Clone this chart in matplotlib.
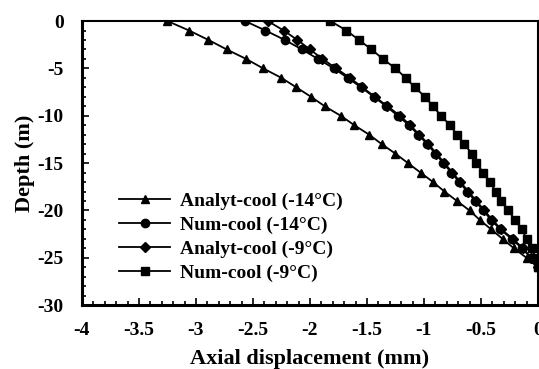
import numpy as np
import matplotlib
matplotlib.use('Agg')
import matplotlib.pyplot as plt
from matplotlib.ticker import MultipleLocator

plt.rcParams['font.family'] = 'Liberation Serif'
plt.rcParams['font.weight'] = 'bold'
plt.rcParams['axes.unicode_minus'] = False

depth = -np.arange(27)

analyt_14 = [-3.25, -3.06, -2.89, -2.73, -2.56, -2.41, -2.25, -2.12, -1.99, -1.87,
             -1.73, -1.61, -1.48, -1.37, -1.25, -1.14, -1.03, -0.92, -0.82, -0.71,
             -0.60, -0.51, -0.41, -0.31, -0.21, -0.10, 0.0]
num_14 = [-2.57, -2.39, -2.22, -2.07, -1.93, -1.79, -1.67, -1.55, -1.44, -1.33,
          -1.23, -1.13, -1.05, -0.97, -0.90, -0.83, -0.76, -0.69, -0.62, -0.55,
          -0.48, -0.41, -0.33, -0.23, -0.14, -0.06, 0.0]
analyt_9 = [-2.37, -2.23, -2.11, -2.00, -1.89, -1.77, -1.65, -1.54, -1.43, -1.32,
            -1.21, -1.12, -1.04, -0.96, -0.89, -0.82, -0.75, -0.68, -0.61, -0.54,
            -0.47, -0.40, -0.32, -0.22, -0.13, -0.06, 0.0]
num_9 = [-1.82, -1.68, -1.57, -1.46, -1.36, -1.25, -1.16, -1.08, -0.99, -0.92,
         -0.85, -0.77, -0.71, -0.645, -0.58, -0.54, -0.48, -0.42, -0.37, -0.32,
         -0.26, -0.20, -0.14, -0.10, -0.055, -0.02, 0.0]

fig = plt.figure(figsize=(5.39, 3.69), dpi=100)
ax = fig.add_axes([0.152, 0.173, 0.846, 0.77])

style = dict(color='black', lw=1.3, ms=6)
ax.plot(analyt_14, depth, marker='^', label='Analyt-cool (-14°C)', **style)
ax.plot(num_14, depth, marker='o', label='Num-cool (-14°C)', **style)
ax.plot(analyt_9, depth, marker='D', label='Analyt-cool (-9°C)', ms=5.5, color='black', lw=1.3)
ax.plot(num_9, depth, marker='s', label='Num-cool (-9°C)', **style)

ax.set_xlim(-4, 0)
ax.set_ylim(-30, 0)
ax.xaxis.set_major_locator(MultipleLocator(0.5))
ax.xaxis.set_minor_locator(MultipleLocator(0.1))
ax.yaxis.set_major_locator(MultipleLocator(5))
ax.yaxis.set_minor_locator(MultipleLocator(1))
ax.xaxis.set_major_formatter(plt.FuncFormatter(lambda v, p: '%g' % v))
ax.tick_params(which='both', direction='in', top=False, right=False, labelsize=14, width=1.2)
ax.tick_params(which='major', length=5)
ax.tick_params(axis='x', which='major', pad=12)
ax.tick_params(axis='y', which='major', pad=13)
ax.tick_params(which='minor', length=3)
for lbl in ax.get_xticklabels() + ax.get_yticklabels():
    lbl.set_fontweight('bold')

for s in ['left', 'bottom']:
    ax.spines[s].set_linewidth(2.2)
for s in ['top', 'right']:
    ax.spines[s].set_linewidth(1.5)

ax.set_xlabel('Axial displacement (mm)', fontsize=16, fontweight='bold', labelpad=7)
ax.set_ylabel('Depth (m)', fontsize=16, fontweight='bold', labelpad=2)

ax.legend(loc='upper left', bbox_to_anchor=(0.065, 0.425), frameon=False,
          prop={'weight': 'bold', 'size': 14}, handlelength=2.6,
          labelspacing=0.32, borderaxespad=0, handletextpad=0.5)

fig.savefig('out.png', dpi=100)
